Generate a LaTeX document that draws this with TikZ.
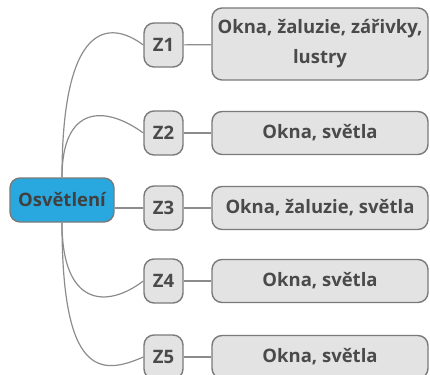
\documentclass[tikz,border=0pt]{standalone}
\usepackage{fontspec}
\setmainfont{Open Sans}
\definecolor{rootblue}{HTML}{29A8E0}
\definecolor{boxgray}{HTML}{E3E3E3}
\definecolor{framegray}{HTML}{7A7A7A}
\definecolor{linegray}{HTML}{8C8C8C}
\definecolor{textgray}{HTML}{4A4A4A}

\begin{document}
\begin{tikzpicture}[x = 1pt, y = -1pt, font = \bfseries\fontsize{18.5}{28}\selectfont, text = textgray,
  root/.style = {draw = framegray, fill = rootblue, line width = 1.4pt, rounded corners = 10pt, minimum width = 104pt, minimum height = 44pt, inner sep = 0pt, text = black!75},
  zbox/.style = {draw = framegray, fill = boxgray, line width = 1.4pt, rounded corners = 10pt, minimum width = 39pt, minimum height = 44pt, inner sep = 0pt},
  itembox/.style = {draw = framegray, fill = boxgray, line width = 1.4pt, rounded corners = 10pt, minimum width = 216pt, minimum height = 43pt, inner sep = 0pt, align = center},
  link/.style = {draw = linegray, line width = 1.2pt}]
  \useasboundingbox (0, 0) rectangle (430, 374);
  \clip (0, 0) rectangle (430, 374);

  \node (osv) [root] at (62, 200) {Osvětlení};

  \node (z1) [zbox] at (163.5, 45) {Z1};
  \node (z2) [zbox] at (163.5, 133) {Z2};
  \node (z3) [zbox] at (163.5, 208) {Z3};
  \node (z4) [zbox] at (163.5, 281) {Z4};
  \node (z5) [zbox] at (163.5, 357) {Z5};

  \node (item1) [itembox, minimum height = 72pt] at (320, 44) {Okna, žaluzie, zářivky,\\[2pt]lustry};
  \node (item2) [itembox] at (320, 133) {Okna, světla};
  \node (item3) [itembox] at (320, 208) {Okna, žaluzie, světla};
  \node (item4) [itembox] at (320, 281) {Okna, světla};
  \node (item5) [itembox] at (320, 357) {Okna, světla};

  % branches of the root
  \draw [link] (osv.north) .. controls (62, 20) and (110, 20) .. (z1.west);
  \draw [link] (osv.north) .. controls (62, 105) and (105, 105) .. (z2.west);
  \draw [link] (osv.east |- z3.west) -- (z3.west);
  \draw [link] (osv.south) .. controls (62, 308) and (108, 308) .. (z4.west);
  \draw [link] (osv.south) .. controls (62, 376) and (100, 376) .. (z5.west);

  \draw [link] (z1) -- (item1);
  \draw [link] (z2) -- (item2);
  \draw [link] (z3) -- (item3);
  \draw [link] (z4) -- (item4);
  \draw [link] (z5) -- (item5);
\end{tikzpicture}
\end{document}
